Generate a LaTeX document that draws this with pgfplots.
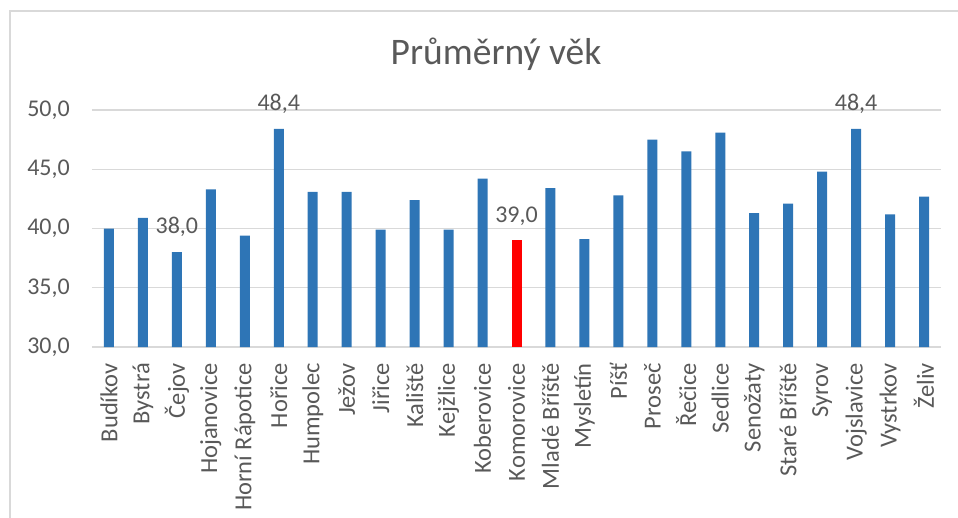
\documentclass[border=0pt]{standalone}
\usepackage{pgfplots}
\pgfplotsset{compat=1.18}
\usepackage{fontspec}
\setmainfont{Carlito}
\definecolor{barblue}{HTML}{2E75B6}
\definecolor{gridgray}{HTML}{D9D9D9}
\definecolor{txtgray}{HTML}{595959}
\begin{document}
\begin{tikzpicture}
\useasboundingbox (-92pt,-170pt) rectangle (866pt,347pt);
\draw[gridgray, line width=1.5pt] (-82pt,-180pt) -- (-82pt,336pt) -- (880pt,336pt);
\begin{axis}[
  at={(0pt,0pt)}, anchor=south west,
  scale only axis, width=849pt, height=237pt,
  ymin=30, ymax=50, ytick={30,35,40,45,50},
  xmin=-0.5, xmax=24.5,
  xtick={0,...,24},
  xticklabels={Budíkov,Bystrá,Čejov,Hojanovice,Horní Rápotice,Hořice,Humpolec,Ježov,Jiřice,Kaliště,Kejžlice,Koberovice,Komorovice,Mladé Bříště,Mysletín,Píšť,Proseč,Řečice,Sedlice,Senožaty,Staré Bříště,Syrov,Vojslavice,Vystrkov,Želiv},
  x tick label style={rotate=90, anchor=east, inner sep=0pt, font=\fontsize{24.5}{28}\selectfont, color=txtgray},
  xticklabel shift=16pt,
  y tick label style={inner sep=0pt, font=\fontsize{24}{28}\selectfont, color=txtgray},
  yticklabel shift=22pt,
  /pgf/number format/.cd, fixed, fixed zerofill, precision=1, use comma, assume math mode=true,
  /pgfplots/.cd,
  axis line style={draw=none},
  major tick length=0pt,
  ymajorgrids, grid style={color=gridgray, line width=1.3pt},
  ybar, bar width=10pt, bar shift=0pt,
  nodes near coords, point meta=explicit symbolic,
  every node near coord/.append style={inner sep=0pt, yshift=15pt, font=\fontsize{24}{28}\selectfont, color=txtgray},
  clip=false,
]
\addplot[fill=barblue, draw=none] coordinates {
(0,40.0) []
(1,40.9) []
(2,38.0) [38,0]
(3,43.3) []
(4,39.4) []
(5,48.4) [48,4]
(6,43.1) []
(7,43.1) []
(8,39.9) []
(9,42.4) []
(10,39.9) []
(11,44.2) []
(13,43.4) []
(14,39.1) []
(15,42.8) []
(16,47.5) []
(17,46.5) []
(18,48.1) []
(19,41.3) []
(20,42.1) []
(21,44.8) []
(22,48.4) [48,4]
(23,41.2) []
(24,42.7) []
};
\addplot[fill=red, draw=none] coordinates {(12,39.0) [39,0]};
\end{axis}
\node[anchor=base, font=\fontsize{37.5}{42}\selectfont, color=txtgray] at (404pt,282pt) {Průměrný věk};
\end{tikzpicture}
\end{document}
